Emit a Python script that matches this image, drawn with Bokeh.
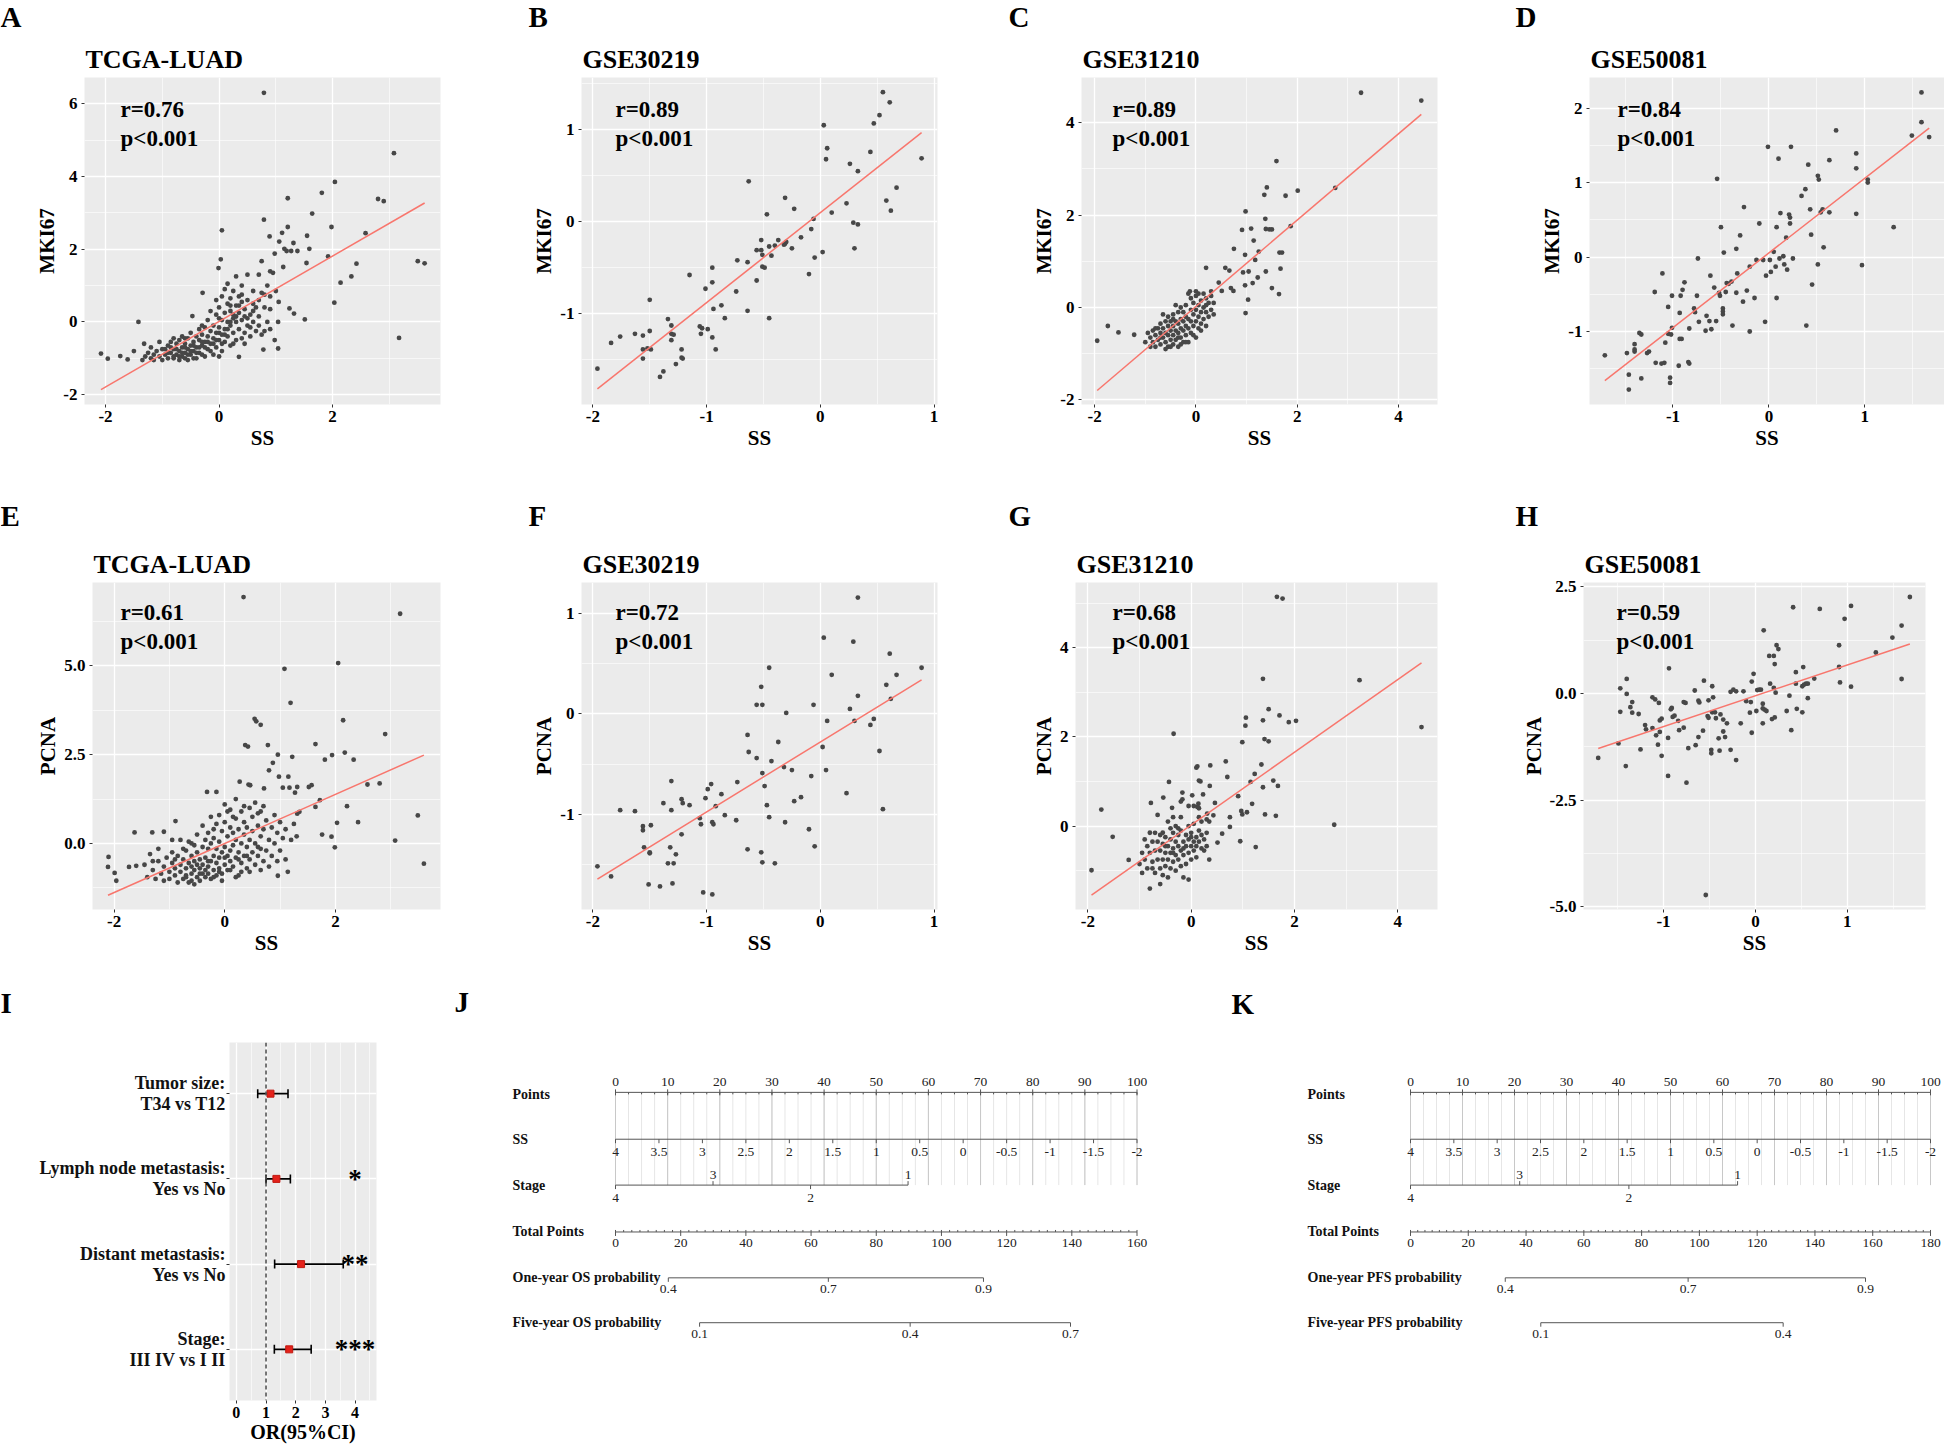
import numpy as np
from bokeh.plotting import figure
from bokeh.models import Range1d, FixedTicker, Label, Span
from bokeh.layouts import row, column
from bokeh.embed import file_html
from bokeh.resources import INLINE
from bokeh.core.properties import value

FONT = "Liberation Serif"
BG = "#EBEBEB"

# =========================== DATA ===========================
# A: TCGA-LUAD  SS vs MKI67
tcga_ss_mki67 = [
    (0.79, 6.30), (3.08, 4.64), (2.04, 3.85), (1.81, 3.55), (1.21, 3.40), (2.80, 3.38), (2.90, 3.32),
    (1.64, 2.98), (0.79, 2.81), (1.98, 2.61), (1.21, 2.61), (0.05, 2.52), (2.58, 2.44), (1.11, 2.45),
    (1.55, 2.37), (0.89, 2.35), (1.06, 2.21), (1.31, 2.17), (1.15, 2.01), (1.59, 2.01), (1.27, 1.95),
    (1.38, 1.95), (1.19, 1.95), (0.03, 1.72), (0.98, 1.88), (1.92, 1.80), (0.75, 1.67), (1.54, 1.62),
    (3.50, 1.67), (3.62, 1.61), (2.42, 1.60), (1.13, 1.51), (-0.01, 1.48), (0.90, 1.39), (2.33, 1.25),
    (2.14, 1.08), (2.03, 0.53), (3.17, -0.44), (1.51, 0.07), (1.32, 0.23), (1.24, 0.37), (1.04, 0.0),
    (0.98, -0.50), (1.04, -0.73), (0.78, -0.76), (0.35, -0.96), (-1.42, 0.0), (-2.08, -0.87),
    (-1.96, -1.01), (-1.74, -0.94), (-1.61, -1.03), (-1.50, -0.80), (-1.32, -0.60), (-0.29, 0.80),
    (-0.47, 0.16),
    (-1.35, -1.05), (-1.3, -0.95), (-1.25, -0.85), (-1.2, -1.0), (-1.15, -0.9), (-1.1, -0.8), (-1.05, -0.95),
    (-1.0, -1.05), (-1.0, -0.75), (-0.95, -0.9), (-0.9, -1.0), (-0.9, -0.65), (-0.85, -0.85), (-0.85, -0.55),
    (-0.8, -1.0), (-0.8, -0.75), (-0.75, -0.9), (-0.75, -0.6), (-0.7, -1.05), (-0.7, -0.8), (-0.7, -0.5),
    (-0.65, -0.95), (-0.65, -0.7), (-0.6, -0.85), (-0.6, -0.6), (-0.6, -1.0), (-0.55, -0.75), (-0.55, -0.45),
    (-0.5, -0.9), (-0.5, -0.65), (-0.5, -0.3), (-0.45, -0.8), (-0.45, -0.55), (-0.4, -1.0), (-0.4, -0.7),
    (-0.4, -0.4), (-0.35, -0.85), (-0.35, -0.5), (-0.35, -0.2), (-0.3, -0.65), (-0.3, -0.35), (-0.3, -0.9),
    (-0.25, -0.55), (-0.25, -0.15), (-0.2, -0.75), (-0.2, -0.4), (-0.2, 0.05), (-0.15, -0.6), (-0.15, -0.25),
    (-0.15, 0.3), (-0.1, -0.9), (-0.1, -0.45), (-0.1, -0.1), (-0.05, -0.7), (-0.05, -0.3), (-0.05, 0.2),
    (0.0, -0.5), (0.0, -0.15), (0.0, 0.4), (0.05, -0.8), (0.05, -0.35), (0.05, 0.05), (0.05, 0.7),
    (0.1, -0.55), (0.1, -0.2), (0.1, 0.25), (0.15, -0.4), (0.15, 0.0), (0.15, 0.5), (0.15, 1.05),
    (0.2, -0.65), (0.2, -0.1), (0.2, 0.3), (0.25, -0.3), (0.25, 0.1), (0.25, 0.85), (0.3, -0.5), (0.3, 0.0),
    (0.3, 0.45), (0.3, 1.25), (0.35, -0.2), (0.35, 0.25), (0.35, 0.7), (0.4, -0.45), (0.4, 0.05), (0.4, 1.0),
    (0.45, -0.3), (0.45, 0.35), (0.5, -0.1), (0.5, 0.6), (0.5, 1.3), (0.55, -0.4), (0.55, 0.2), (0.6, 0.0),
    (0.6, 0.85), (0.65, -0.25), (0.65, 0.4), (0.7, 0.15), (0.7, 1.3), (0.75, -0.35), (0.75, 0.8), (0.8, 0.4),
    (0.85, 0.0), (0.85, 1.0), (0.9, -0.2), (0.9, 0.7), (0.95, 1.35), (1.0, 0.85), (1.05, 0.55),
    (-0.45, -1.0), (-0.55, -1.05), (-0.65, -0.4), (-0.8, -0.45), (-1.05, -0.55), (-0.25, -0.95), (0.0, -0.95),
    (0.1, 0.9), (0.2, 0.65), (-0.05, 0.6), (0.4, 0.55), (0.6, 0.5), (0.25, -0.6), (0.45, -0.6), (0.55, -0.15),
    (0.7, -0.1), (0.8, -0.25),
    (-1.2, -0.7), (-1.15, -1.05), (-0.95, -0.75), (-0.9, -0.85), (-0.85, -0.7), (-0.75, -0.75), (-0.7, -0.95),
    (-0.65, -0.85), (-0.6, -0.7), (-0.55, -0.9), (-0.5, -0.8), (-0.45, -0.65), (-0.4, -0.85), (-0.35, -0.7),
    (-0.3, -0.55), (-0.25, -0.7), (-0.2, -0.55), (-0.15, -0.8), (-0.1, -0.6), (-0.05, -0.5), (0.0, -0.3),
    (0.05, -0.6), (0.1, -0.35), (0.15, -0.2), (0.2, 0.0), (0.25, 0.2), (0.3, 0.15), (0.35, 0.45), (0.45, 0.15),
    (0.5, 0.1), (0.6, 0.3), (0.7, 0.6), (0.8, 0.75), (0.9, 0.35), (-0.8, -0.95), (-0.6, -0.45), (-0.3, -0.1),
    (0.0, 0.1), (0.2, 0.45), (0.4, 0.75),
]

# B: GSE30219  SS vs MKI67
gse30219_ss_mki67 = [
    (-1.96, -1.60), (-1.84, -1.32), (-1.76, -1.25), (-1.63, -1.22), (-1.56, -1.24), (-1.56, -1.39),
    (-1.56, -1.49), (-1.52, -1.38), (-1.50, -1.19), (-1.50, -0.85), (-1.49, -1.39), (-1.41, -1.69),
    (-1.38, -1.63), (-1.34, -1.06), (-1.31, -1.13), (-1.31, -1.22), (-1.31, -1.29), (-1.29, -1.23),
    (-1.27, -1.55), (-1.22, -1.39), (-1.22, -1.48), (-1.21, -1.49), (-1.15, -0.58), (-1.06, -1.14),
    (-1.05, -1.22), (-1.04, -1.16), (-1.01, -0.73), (-0.99, -1.17), (-0.95, -0.50), (-0.95, -0.66),
    (-0.95, -1.26), (-0.94, -0.95), (-0.92, -1.39), (-0.87, -0.91), (-0.84, -1.05), (-0.74, -0.76),
    (-0.73, -0.42), (-0.64, -0.97), (-0.64, -0.44), (-0.63, 0.44), (-0.56, -0.64), (-0.56, -0.31),
    (-0.52, -0.20), (-0.52, -0.31), (-0.51, -0.36), (-0.51, -0.49), (-0.49, -0.50), (-0.47, 0.08),
    (-0.45, -0.27), (-0.45, -1.05), (-0.43, -0.37), (-0.40, -0.26), (-0.37, -0.20), (-0.32, -0.25),
    (-0.31, -0.24), (-0.31, 0.26), (-0.30, -0.22), (-0.25, -0.29), (-0.23, 0.14), (-0.17, -0.17),
    (-0.10, -0.57), (-0.08, -0.08), (-0.06, 0.03), (-0.05, -0.39), (0.02, -0.33), (0.03, 1.05),
    (0.05, 0.68), (0.06, 0.80), (0.10, 0.10), (0.23, 0.20), (0.26, 0.63), (0.29, -0.01), (0.30, -0.29),
    (0.33, -0.03), (0.33, 0.55), (0.44, 0.76), (0.47, 1.07), (0.52, 1.16), (0.55, 1.41), (0.58, 0.23),
    (0.61, 1.30), (0.62, 0.12), (0.67, 0.37), (0.89, 0.69),
]

# C: GSE31210  SS vs MKI67
gse31210_ss_mki67 = [
    (3.26, 4.65), (4.45, 4.48), (1.59, 3.17), (1.40, 2.60), (1.35, 2.44), (2.01, 2.53), (1.77, 2.42),
    (2.75, 2.59), (0.98, 2.08), (1.37, 1.92), (0.91, 1.68), (1.09, 1.71), (1.38, 1.70), (1.45, 1.69),
    (1.50, 1.69), (1.87, 1.76), (1.14, 1.45), (0.75, 1.27), (1.24, 1.21), (1.65, 1.19), (1.70, 1.19),
    (0.97, 1.14), (1.17, 1.03), (0.20, 0.86), (0.58, 0.86), (0.66, 0.80), (0.93, 0.76), (1.04, 0.78),
    (1.38, 0.78), (1.67, 0.84), (1.22, 0.65), (1.12, 0.53), (0.97, 0.48), (0.45, 0.54), (0.69, 0.42),
    (0.74, 0.36), (0.51, 0.36), (1.50, 0.42), (1.64, 0.29), (1.03, 0.17), (0.98, -0.12), (-1.95, -0.72),
    (-1.74, -0.40), (-1.53, -0.54), (-1.22, -0.59),
    (-1.0, -0.75), (-0.95, -0.55), (-0.9, -0.85), (-0.9, -0.65), (-0.85, -0.5), (-0.85, -0.75), (-0.8, -0.6),
    (-0.8, -0.85), (-0.75, -0.45), (-0.75, -0.7), (-0.7, -0.55), (-0.7, -0.8), (-0.7, -0.35), (-0.65, -0.65),
    (-0.65, -0.45), (-0.65, -0.15), (-0.6, -0.75), (-0.6, -0.55), (-0.6, -0.3), (-0.55, -0.85), (-0.55, -0.6),
    (-0.55, -0.4), (-0.55, -0.2), (-0.5, -0.7), (-0.5, -0.5), (-0.5, -0.3), (-0.45, -0.8), (-0.45, -0.6),
    (-0.45, -0.4), (-0.45, -0.15), (-0.4, -0.7), (-0.4, -0.5), (-0.4, -0.3), (-0.4, 0.05), (-0.35, -0.85),
    (-0.35, -0.55), (-0.35, -0.35), (-0.35, -0.1), (-0.3, -0.65), (-0.3, -0.45), (-0.3, -0.25), (-0.3, 0.0),
    (-0.25, -0.75), (-0.25, -0.5), (-0.25, -0.3), (-0.25, -0.1), (-0.2, -0.6), (-0.2, -0.4), (-0.2, -0.2),
    (-0.2, 0.05), (-0.15, -0.75), (-0.15, -0.45), (-0.15, -0.25), (-0.15, 0.3), (-0.1, -0.55), (-0.1, -0.3),
    (-0.1, -0.05), (-0.1, 0.2), (-0.05, -0.4), (-0.05, -0.15), (-0.05, 0.1), (0.0, -0.65), (0.0, -0.3),
    (0.0, -0.05), (0.0, 0.25), (0.05, -0.45), (0.05, -0.2), (0.05, 0.05), (0.1, -0.35), (0.1, -0.1),
    (0.1, 0.15), (0.15, -0.25), (0.15, 0.0), (0.15, 0.3), (0.2, -0.4), (0.2, -0.1), (0.2, 0.2), (0.25, -0.2),
    (0.25, 0.1), (0.3, -0.05), (0.3, 0.25), (0.35, -0.15), (0.35, 0.1), (-0.8, -0.45), (-0.6, -0.9),
    (-0.45, -0.25), (-0.35, -0.65), (-0.3, -0.8), (-0.5, -0.85), (-0.7, -0.65), (0.05, 0.3), (-0.05, -0.6),
    (0.2, 0.05), (-0.2, -0.75), (0.1, -0.5), (0.3, 0.35), (0.0, 0.35), (-0.12, 0.35),
]

# D: GSE50081  SS vs MKI67
gse50081_ss_mki67 = [
    (-1.71, -1.32), (-1.48, -1.29), (-1.46, -1.58), (-1.46, -1.78), (-1.40, -1.17), (-1.40, -1.24),
    (-1.40, -1.27), (-1.35, -1.02), (-1.33, -1.04), (-1.33, -1.63), (-1.27, -1.29), (-1.25, -1.27),
    (-1.19, -0.47), (-1.18, -1.42), (-1.11, -0.22), (-1.12, -1.43), (-1.09, -1.42), (-1.08, -1.15),
    (-1.05, -0.67), (-1.05, -1.03), (-1.03, -1.62), (-1.03, -1.69), (-1.02, -1.04), (-1.01, -0.52),
    (-1.01, -0.95), (-0.94, -1.46), (-0.93, -0.75), (-0.93, -1.10), (-0.91, -1.10), (-0.92, -0.52),
    (-0.90, -0.44), (-0.88, -0.34), (-0.84, -1.41), (-0.83, -1.43), (-0.83, -0.96), (-0.78, -0.69),
    (-0.77, -0.74), (-0.75, -0.52), (-0.74, -0.02), (-0.73, -0.87), (-0.66, -0.99), (-0.65, -0.79),
    (-0.62, -0.86), (-0.61, -0.25), (-0.60, -0.97), (-0.57, -0.41), (-0.55, -0.86), (-0.54, 1.05),
    (-0.52, -0.48), (-0.51, -0.52), (-0.50, 0.40), (-0.48, -0.69), (-0.48, -0.73), (-0.48, -0.77),
    (-0.47, 0.06), (-0.45, -0.47), (-0.44, -0.35), (-0.42, -0.36), (-0.39, -0.33), (-0.38, -0.92),
    (-0.34, 0.11), (-0.34, -0.48), (-0.33, -0.22), (-0.30, 0.29), (-0.27, -0.60), (-0.26, 0.67),
    (-0.23, -0.45), (-0.20, -1.00), (-0.20, -0.13), (-0.15, -0.55), (-0.13, -0.04), (-0.10, 0.45),
    (-0.06, -0.04), (-0.04, -0.87), (-0.03, -0.25), (-0.01, 1.48), (0.01, -0.04), (0.02, -0.20),
    (0.05, 0.07), (0.07, -0.13), (0.08, 0.40), (0.08, -0.55), (0.10, 1.32), (0.11, -0.02), (0.12, 0.59),
    (0.15, 0.01), (0.16, -0.10), (0.18, 0.26), (0.19, -0.17), (0.21, 0.57), (0.22, 0.45), (0.22, 0.53),
    (0.23, 1.48), (0.25, -0.02), (0.34, 0.82), (0.38, 0.91), (0.39, -0.92), (0.41, 1.24), (0.43, 0.64),
    (0.44, 0.30), (0.45, -0.37), (0.51, 1.09), (0.51, -0.10), (0.52, 1.04), (0.54, 0.60), (0.56, 0.64),
    (0.57, 0.13), (0.63, 1.30), (0.63, 0.60), (0.70, 1.70), (0.91, 0.58), (0.91, 1.19), (0.91, 1.39),
    (0.97, -0.11), (1.03, 1.04), (1.03, 1.00), (1.30, 0.40), (1.49, 1.63), (1.59, 2.21), (1.59, 1.81),
    (1.67, 1.61),
]

# E: TCGA-LUAD  SS vs PCNA
tcga_ss_pcna = [
    (0.34, 6.94), (3.17, 6.47), (2.05, 5.08), (1.08, 4.92), (1.19, 3.96), (0.54, 3.51), (0.57, 3.44),
    (0.65, 3.34), (2.14, 3.47), (2.90, 3.08), (0.37, 2.77), (0.42, 2.73), (0.78, 2.77), (1.64, 2.80),
    (0.96, 2.50), (1.22, 2.44), (1.94, 2.49), (1.81, 2.36), (2.17, 2.56), (2.33, 2.36), (0.87, 2.27),
    (0.80, 2.06), (0.98, 1.88), (1.15, 1.88), (0.27, 1.74), (0.43, 1.66), (0.46, 1.64), (1.05, 1.57),
    (1.17, 1.57), (1.31, 1.59), (1.52, 1.59), (1.57, 1.64), (2.58, 1.66), (2.80, 1.69), (1.27, 1.43),
    (0.71, 1.55), (-0.15, 1.45), (1.64, 1.03), (1.72, 1.22), (2.21, 1.05), (1.31, 0.84), (1.35, 0.89),
    (2.41, 0.60), (2.03, 0.58), (3.49, 0.79), (1.76, 0.25), (1.93, 0.19), (3.08, 0.08), (1.99, -0.11),
    (3.60, -0.57), (1.14, -0.80), (0.96, -0.91), (-2.10, -0.38), (-2.11, -0.66), (-1.99, -0.83),
    (-1.96, -1.05), (-1.63, 0.31), (-1.73, -0.66), (-1.60, -0.63), (-1.31, 0.31), (-1.10, 0.33),
    (-0.89, 0.63), (-0.32, 1.45),
    (-1.45, -0.6), (-1.4, -0.95), (-1.35, -0.3), (-1.3, -0.75), (-1.25, -1.0), (-1.2, -0.5), (-1.15, -0.85),
    (-1.1, -0.65), (-1.1, -1.05), (-1.05, -0.4), (-1.0, -0.8), (-1.0, -1.0), (-0.95, -0.55), (-0.95, 0.1),
    (-0.9, -0.9), (-0.9, -0.7), (-0.85, -1.1), (-0.85, -0.35), (-0.8, -0.8), (-0.8, -0.6), (-0.8, 0.1),
    (-0.75, -1.0), (-0.75, -0.45), (-0.7, -0.9), (-0.7, -0.7), (-0.7, -0.2), (-0.65, -1.1), (-0.65, -0.55),
    (-0.65, 0.05), (-0.6, -0.85), (-0.6, -0.65), (-0.6, -0.35), (-0.55, -1.15), (-0.55, -0.75), (-0.55, -0.5),
    (-0.5, -0.95), (-0.5, -0.6), (-0.5, -0.25), (-0.5, 0.25), (-0.45, -1.05), (-0.45, -0.7), (-0.45, -0.45),
    (-0.4, -0.85), (-0.4, -0.6), (-0.4, -0.1), (-0.4, 0.5), (-0.35, -0.95), (-0.35, -0.75), (-0.35, -0.4),
    (-0.3, -0.65), (-0.3, -0.85), (-0.3, -0.15), (-0.3, 0.3), (-0.25, -0.5), (-0.25, -1.0), (-0.25, 0.0),
    (-0.25, 0.75), (-0.2, -0.75), (-0.2, -0.35), (-0.2, 0.15), (-0.15, -0.9), (-0.15, -0.55), (-0.15, -0.15),
    (-0.15, 0.55), (-0.1, -0.7), (-0.1, -0.4), (-0.1, 0.05), (-0.1, 0.8), (-0.05, -0.85), (-0.05, -0.25),
    (-0.05, 0.35), (0.0, -0.6), (0.0, -0.1), (0.0, 0.6), (0.0, 1.1), (0.05, -0.75), (0.05, -0.35), (0.05, 0.2),
    (0.1, -0.5), (0.1, -0.2), (0.1, 0.45), (0.1, 0.95), (0.15, -0.65), (0.15, -0.05), (0.15, 0.3), (0.2, -0.4),
    (0.2, 0.1), (0.2, 0.7), (0.2, 1.25), (0.25, -0.9), (0.25, -0.25), (0.25, 0.4), (0.3, -0.55), (0.3, 0.0),
    (0.3, 0.9), (0.35, -0.35), (0.35, 0.25), (0.35, 0.6), (0.4, -0.7), (0.4, -0.1), (0.4, 0.45), (0.45, -0.45),
    (0.45, 0.1), (0.45, 1.0), (0.5, -0.25), (0.5, 0.35), (0.5, 0.75), (0.55, -0.6), (0.55, 0.0), (0.55, 1.15),
    (0.6, -0.35), (0.6, 0.5), (0.65, -0.15), (0.65, 0.2), (0.65, 0.9), (0.7, -0.5), (0.7, 0.4), (0.75, -0.2),
    (0.75, 0.65), (0.8, 0.1), (0.8, -0.65), (0.85, 0.45), (0.85, -0.35), (0.9, 0.0), (0.9, 0.8), (0.95, -0.5),
    (0.95, 0.3), (1.0, -0.2), (1.0, 0.6), (1.05, 0.15), (1.1, -0.45), (1.1, 0.4), (1.2, 0.1), (1.25, 0.55),
    (1.3, 0.2), (-0.55, -0.05), (-0.75, -0.15), (-1.2, -0.15), (0.15, 0.75), (0.6, 0.85), (0.35, 1.05),
    (-0.35, 0.1), (0.05, 0.9), (0.3, -0.8), (-0.05, -1.05), (0.2, -0.95), (0.45, -0.8), (0.65, -0.75),
    (0.7, 1.05), (-0.9, -0.45), (-0.7, -0.95), (-0.6, -1.05), (-0.45, -0.85), (-0.3, -0.5), (-0.2, -0.95),
    (-0.1, -0.8), (0.0, -0.4), (0.1, -0.75), (0.25, -0.45), (0.4, -0.35), (0.6, -0.1), (-1.3, -0.5),
    (-0.95, -0.25), (-0.6, 0.0), (-0.2, 0.4),
]

# F: GSE30219  SS vs PCNA
gse30219_ss_pcna = [
    (-1.96, -1.52), (-1.84, -1.62), (-1.76, -0.96), (-1.63, -0.97), (-1.56, -1.12), (-1.56, -1.16),
    (-1.55, -1.33), (-1.51, -1.70), (-1.50, -1.38), (-1.50, -1.39), (-1.49, -1.11), (-1.41, -1.72),
    (-1.38, -0.89), (-1.34, -1.49), (-1.32, -1.33), (-1.31, -0.67), (-1.31, -0.96), (-1.30, -1.69),
    (-1.29, -1.49), (-1.27, -1.40), (-1.22, -1.20), (-1.22, -0.85), (-1.21, -0.89), (-1.15, -0.91),
    (-1.06, -1.04), (-1.05, -1.10), (-1.03, -1.78), (-1.01, -0.84), (-0.99, -0.75), (-0.96, -0.70),
    (-0.95, -1.08), (-0.94, -1.10), (-0.95, -1.80), (-0.92, -0.92), (-0.87, -0.80), (-0.84, -1.01),
    (-0.74, -1.06), (-0.73, -0.68), (-0.64, -0.21), (-0.63, -0.38), (-0.64, -1.35), (-0.56, 0.09),
    (-0.56, -0.44), (-0.52, 0.27), (-0.51, 0.09), (-0.51, -0.59), (-0.52, -1.38), (-0.51, -1.48),
    (-0.49, -0.72), (-0.47, -0.91), (-0.45, 0.46), (-0.45, -1.03), (-0.43, -0.47), (-0.40, -1.49),
    (-0.37, -0.28), (-0.32, -0.53), (-0.31, -1.08), (-0.30, 0.01), (-0.25, -0.56), (-0.23, -0.87),
    (-0.17, -0.83), (-0.10, -1.15), (-0.08, -0.62), (-0.06, 0.09), (-0.05, -1.32), (0.02, -0.33),
    (0.03, 0.76), (0.05, -0.56), (0.06, -0.07), (0.10, 0.39), (0.23, -0.79), (0.26, 0.05), (0.29, 0.72),
    (0.30, -0.07), (0.33, 0.18), (0.33, 1.16), (0.44, -0.11), (0.47, -0.05), (0.52, -0.37), (0.55, -0.95),
    (0.58, 0.29), (0.61, 0.60), (0.62, 0.15), (0.67, 0.39), (0.89, 0.46),
]

# G: GSE31210  SS vs PCNA
gse31210_ss_pcna = [
    (1.66, 5.14), (1.77, 5.10), (1.39, 3.30), (3.26, 3.27), (1.50, 2.62), (1.71, 2.48), (1.06, 2.43),
    (1.39, 2.37), (1.89, 2.33), (2.03, 2.36), (1.05, 2.25), (4.46, 2.22), (-0.34, 2.07), (1.42, 1.95),
    (1.50, 1.90), (0.99, 1.88), (0.67, 1.45), (0.37, 1.36), (0.12, 1.34), (0.10, 1.31), (1.36, 1.38),
    (1.23, 1.17), (0.70, 1.10), (1.59, 1.02), (1.15, 0.99), (0.15, 1.02), (0.18, 1.00), (-0.43, 0.99),
    (1.39, 0.87), (1.68, 0.90), (0.36, 0.90), (0.91, 0.67), (-0.17, 0.75), (-0.17, 0.60), (0.02, 0.69),
    (0.23, 0.71), (-0.54, 0.64), (-0.78, 0.52), (0.46, 0.52), (1.18, 0.50), (0.14, 0.50), (0.12, 0.43),
    (-0.37, 0.41), (0.97, 0.34), (1.08, 0.31), (0.99, 0.26), (1.43, 0.26), (1.64, 0.23), (0.31, 0.28),
    (0.43, 0.24), (0.75, 0.20), (2.77, 0.03), (0.75, -0.02), (0.60, -0.17), (0.95, -0.34), (0.51, -0.37),
    (1.25, -0.47), (-1.74, 0.37), (-1.52, -0.24), (-1.21, -0.76), (-1.93, -0.99),
    (-1.0, -0.85), (-0.95, -0.6), (-0.95, -1.05), (-0.9, -0.75), (-0.85, -0.45), (-0.85, -0.95), (-0.8, -0.6),
    (-0.8, -0.15), (-0.8, -1.4), (-0.75, -0.8), (-0.75, -0.35), (-0.7, -1.05), (-0.7, -0.55), (-0.7, -0.15),
    (-0.65, -0.75), (-0.65, -0.35), (-0.65, 0.25), (-0.6, -0.95), (-0.6, -0.55), (-0.6, -0.2), (-0.6, -1.3),
    (-0.55, -0.75), (-0.55, -0.4), (-0.55, -1.1), (-0.5, -0.6), (-0.5, -0.25), (-0.5, -0.9), (-0.45, -0.45),
    (-0.45, -0.75), (-0.45, 0.1), (-0.45, -1.15), (-0.4, -0.6), (-0.4, -0.3), (-0.4, -0.95), (-0.35, -0.5),
    (-0.35, -0.15), (-0.35, -0.8), (-0.35, 0.2), (-0.3, -0.65), (-0.3, -0.35), (-0.3, -1.0), (-0.3, 0.0),
    (-0.25, -0.45), (-0.25, -0.75), (-0.25, -0.2), (-0.2, -0.55), (-0.2, -0.9), (-0.2, -0.1), (-0.2, 0.2),
    (-0.15, -0.35), (-0.15, -0.65), (-0.15, -1.15), (-0.1, -0.45), (-0.1, -0.2), (-0.1, -0.85), (-0.05, -0.3),
    (-0.05, -0.6), (-0.05, 0.0), (-0.05, -1.2), (0.0, -0.45), (0.0, -0.15), (0.0, -0.75), (0.05, -0.35),
    (0.05, -0.55), (0.05, 0.05), (0.1, -0.25), (0.1, -0.45), (0.1, -0.7), (0.15, -0.35), (0.15, -0.1),
    (0.15, 0.2), (0.2, -0.5), (0.2, -0.2), (0.2, 0.1), (0.25, -0.3), (0.25, -0.55), (0.3, -0.15), (0.3, -0.45),
    (0.35, -0.75), (0.35, 0.1), (0.15, 0.4), (-0.05, 0.45), (0.05, 0.45), (-0.2, 0.55), (0.3, 0.15),
    (-0.55, -0.15), (-0.9, -0.3), (-0.75, -0.95), (-0.5, -0.45), (-0.35, -0.6), (-0.15, -0.5), (0.0, -0.25),
    (-0.4, -0.05), (-0.25, -0.05),
]

# H: GSE50081  SS vs PCNA
gse50081_ss_pcna = [
    (-1.71, -1.51), (-1.49, -1.17), (-1.47, 0.12), (-1.47, -0.43), (-1.41, -1.70), (-1.40, 0.34),
    (-1.40, -0.01), (-1.36, -0.32), (-1.34, -0.20), (-1.34, -0.45), (-1.27, -0.48), (-1.25, -1.31),
    (-1.20, -0.74), (-1.19, -0.84), (-1.12, -0.81), (-1.12, -0.09), (-1.09, -0.14), (-1.08, -0.98),
    (-1.06, -1.20), (-1.05, -0.22), (-1.04, -0.63), (-1.02, -0.59), (-1.02, -1.46), (-1.04, -0.90),
    (-0.94, 0.59), (-0.95, -1.04), (-0.95, -1.93), (-0.92, -0.37), (-0.91, -0.34), (-0.90, -0.55),
    (-0.88, -0.52), (-0.84, -0.64), (-0.83, -0.86), (-0.78, -0.20), (-0.78, -0.80), (-0.76, -0.22),
    (-0.75, -2.09), (-0.73, -1.28), (-0.66, 0.07), (-0.65, -1.21), (-0.62, -1.02), (-0.62, -0.17),
    (-0.61, -0.21), (-0.57, -0.87), (-0.56, 0.30), (-0.54, -4.72), (-0.52, -0.53), (-0.51, -0.16),
    (-0.51, -0.57), (-0.48, -1.32), (-0.48, -1.40), (-0.47, 0.17), (-0.46, -0.09), (-0.47, -0.44),
    (-0.44, -0.44), (-0.43, -0.58), (-0.40, -1.05), (-0.39, -1.34), (-0.38, -0.49), (-0.35, -0.61),
    (-0.35, -0.89), (-0.33, -1.02), (-0.31, -0.70), (-0.27, 0.04), (-0.27, -1.32), (-0.24, 0.09),
    (-0.21, 0.05), (-0.21, -1.56), (-0.16, -0.70), (-0.13, 0.05), (-0.10, -0.18), (-0.06, -0.45),
    (-0.05, -0.20), (-0.04, -0.92), (-0.04, 0.28), (-0.02, 0.46), (0.01, -0.41), (0.02, 0.08), (0.04, 0.09),
    (0.06, 0.09), (0.08, -0.24), (0.08, -0.70), (0.09, 1.48), (0.08, -0.35), (0.10, -0.38), (0.12, -0.41),
    (0.15, 0.88), (0.16, 0.23), (0.18, -0.60), (0.20, 0.13), (0.20, 0.88), (0.21, -0.56), (0.21, 0.69),
    (0.22, 0.02), (0.23, 1.13), (0.25, 1.04), (0.34, -0.41), (0.37, -0.05), (0.39, -0.86), (0.41, 2.02),
    (0.44, 0.50), (0.44, 0.23), (0.45, -0.36), (0.51, -0.44), (0.51, 0.17), (0.52, 0.62), (0.53, 0.21),
    (0.55, 0.23), (0.57, 0.23), (0.57, -0.11), (0.64, 0.35), (0.70, 1.98), (0.91, 0.62), (0.91, 1.13),
    (0.92, 0.26), (0.97, 1.75), (1.04, 2.05), (1.04, 0.16), (1.31, 0.96), (1.49, 1.31), (1.59, 1.59),
    (1.59, 0.34), (1.68, 2.26),
]

# linear fits: (slope, intercept)
fit_tcga_mki67 = (0.90, 0.012)
fit_gse30219_mki67 = (0.979, 0.099)
fit_gse31210_mki67 = (0.934, 0.024)
fit_gse50081_mki67 = (1.003, 0.055)
fit_tcga_pcna = (0.691, 0.0)
fit_gse30219_pcna = (0.697, -0.28)
fit_gse31210_pcna = (0.815, 0.025)
fit_gse50081_pcna = (0.723, -0.054)

r_values = ["r=0.76", "r=0.89", "r=0.89", "r=0.84", "r=0.61", "r=0.72", "r=0.68", "r=0.59"]
p_text = "p<0.001"
panel_letters = ["A", "B", "C", "D", "E", "F", "G", "H", "I", "J", "K"]

# I: forest plot
forest_names = ["Tumor size:\nT34 vs T12", "Lymph node metastasis:\nYes vs No",
                "Distant metastasis:\nYes vs No", "Stage:\nIII IV vs I II"]
forest_or = [1.15, 1.35, 2.18, 1.78]
forest_lo = [0.72, 1.00, 1.29, 1.28]
forest_hi = [1.74, 1.82, 3.60, 2.52]
forest_stars = ["", "*", "**", "***"]
forest_star_x = 4.0

# J/K: nomograms
nomo_ss_ticks = [4, 3.5, 3, 2.5, 2, 1.5, 1, 0.5, 0, -0.5, -1, -1.5, -2]
nomo_ss_labels = ["4", "3.5", "3", "2.5", "2", "1.5", "1", "0.5", "0", "-0.5", "-1", "-1.5", "-2"]
nomo_stage_levels = ["4", "3", "2", "1"]
os_stage_points = [0, 18.7, 37.4, 56.1]
pfs_stage_points = [0, 21.0, 42.0, 62.9]
os_total_max = 160
pfs_total_max = 180
os_1y_prob = ["0.4", "0.7", "0.9"]
os_1y_total = [16.2, 65.3, 112.9]
os_5y_prob = ["0.1", "0.4", "0.7"]
os_5y_total = [25.8, 90.4, 139.6]
pfs_1y_prob = ["0.4", "0.7", "0.9"]
pfs_1y_total = [32.8, 96.1, 157.5]
pfs_5y_prob = ["0.1", "0.4"]
pfs_5y_total = [45.1, 129.0]

# =========================== LAYOUT ===========================
PAGE_L, PAGE_R = 0, 1944
BASE_FIX_BIG = 10    # raise applied to alphabetic-baseline texts (30px)
BASE_FIX_MID = 8     # (23px)
# letter strips: (top, bottom) in page pixels, letters (x, baseline)
strips = [
    ((0, 34), [(0, 26), (528, 26), (1008, 26), (1515, 26)]),
    ((490, 532), [(0, 525), (528, 525), (1008, 525), (1515, 525)]),
    ((980, 1022), [(0, 1012), (454, 1011), (1231, 1013)]),
]
# (fig_left, fig_top, fig_w, fig_h, frame_left, frame_top, frame_w, frame_h, stat_dx)
boxes = [
    (0, 34, 480, 456, 84, 77, 356, 327, 36),
    (480, 34, 500, 456, 581, 77, 356, 327, 34),
    (980, 34, 490, 456, 1081, 77, 356, 327, 31),
    (1470, 34, 474, 456, 1589, 77, 355, 327, 28),
    (0, 532, 480, 448, 92, 582, 348, 327, 28),
    (480, 532, 500, 448, 581, 582, 356, 327, 34),
    (980, 532, 490, 448, 1075, 582, 362, 327, 37),
    (1470, 532, 474, 448, 1583, 582, 342, 327, 33),
]

specs = [
    dict(title="TCGA-LUAD", ylab="MKI67", pts=tcga_ss_mki67, fit=fit_tcga_mki67,
         xr=(-2.37, 3.90), yr=(-2.27, 6.72), xt=[-2, 0, 2], xtl=["-2", "0", "2"], xm=[-3, -1, 1, 3],
         yt=[-2, 0, 2, 4, 6], ytl=["-2", "0", "2", "4", "6"], ym=[-1, 1, 3, 5]),
    dict(title="GSE30219", ylab="MKI67", pts=gse30219_ss_mki67, fit=fit_gse30219_mki67,
         xr=(-2.10, 1.03), yr=(-1.99, 1.57), xt=[-2, -1, 0, 1], xtl=["-2", "-1", "0", "1"], xm=[-1.5, -0.5, 0.5],
         yt=[-1, 0, 1], ytl=["-1", "0", "1"], ym=[-1.5, -0.5, 0.5, 1.5]),
    dict(title="GSE31210", ylab="MKI67", pts=gse31210_ss_mki67, fit=fit_gse31210_mki67,
         xr=(-2.26, 4.77), yr=(-2.10, 4.98), xt=[-2, 0, 2, 4], xtl=["-2", "0", "2", "4"], xm=[-1, 1, 3],
         yt=[-2, 0, 2, 4], ytl=["-2", "0", "2", "4"], ym=[-1, 1, 3]),
    dict(title="GSE50081", ylab="MKI67", pts=gse50081_ss_mki67, fit=fit_gse50081_mki67,
         xr=(-1.87, 1.83), yr=(-1.98, 2.41), xt=[-1, 0, 1], xtl=["-1", "0", "1"], xm=[-1.5, -0.5, 0.5, 1.5],
         yt=[-1, 0, 1, 2], ytl=["-1", "0", "1", "2"], ym=[-1.5, -0.5, 0.5, 1.5]),
    dict(title="TCGA-LUAD", ylab="PCNA", pts=tcga_ss_pcna, fit=fit_tcga_pcna,
         xr=(-2.39, 3.90), yr=(-1.86, 7.35), xt=[-2, 0, 2], xtl=["-2", "0", "2"], xm=[-3, -1, 1, 3],
         yt=[0, 2.5, 5], ytl=["0.0", "2.5", "5.0"], ym=[-1.25, 1.25, 3.75, 6.25]),
    dict(title="GSE30219", ylab="PCNA", pts=gse30219_ss_pcna, fit=fit_gse30219_pcna,
         xr=(-2.10, 1.03), yr=(-1.95, 1.31), xt=[-2, -1, 0, 1], xtl=["-2", "-1", "0", "1"], xm=[-1.5, -0.5, 0.5],
         yt=[-1, 0, 1], ytl=["-1", "0", "1"], ym=[-1.5, -0.5, 0.5]),
    dict(title="GSE31210", ylab="PCNA", pts=gse31210_ss_pcna, fit=fit_gse31210_pcna,
         xr=(-2.24, 4.77), yr=(-1.87, 5.46), xt=[-2, 0, 2, 4], xtl=["-2", "0", "2", "4"], xm=[-1, 1, 3],
         yt=[0, 2, 4], ytl=["0", "2", "4"], ym=[-1, 1, 3, 5]),
    dict(title="GSE50081", ylab="PCNA", pts=gse50081_ss_pcna, fit=fit_gse50081_pcna,
         xr=(-1.87, 1.85), yr=(-5.06, 2.60), xt=[-1, 0, 1], xtl=["-1", "0", "1"], xm=[-1.5, -0.5, 0.5, 1.5],
         yt=[-5, -2.5, 0, 2.5], ytl=["-5.0", "-2.5", "0.0", "2.5"], ym=[-3.75, -1.25, 1.25]),
]


def bare_figure(width, height, x_range, y_range, bt=0, bb=0):
    p = figure(width=width, height=height, x_range=x_range, y_range=y_range, title=None,
               x_axis_type=None, y_axis_type=None, output_backend="svg", toolbar_location=None,
               min_border_left=0, min_border_right=0, min_border_top=bt, min_border_bottom=bb)
    p.outline_line_color = None
    p.background_fill_color = "white"
    p.border_fill_color = "white"
    return p


def letter_strip(top_bottom, pos, letters):
    top, bottom = top_bottom
    p = bare_figure(PAGE_R - PAGE_L, bottom - top, Range1d(PAGE_L, PAGE_R), Range1d(bottom, top))
    p.text([a for a, b in pos], [b - BASE_FIX_BIG for a, b in pos], letters, text_font=value(FONT),
           text_font_size="29px", text_font_style="bold", text_align="left", text_baseline="alphabetic",
           text_color="black")
    return p


def style_axes(p, tick_size="17px", lab_size="21px"):
    for ax in (p.xaxis[0], p.yaxis[0]):
        ax.axis_line_color = None
        ax.major_tick_line_color = "#333333"
        ax.major_tick_in = 0
        ax.major_tick_out = 3
        ax.minor_tick_line_color = None
        ax.major_label_text_font = FONT
        ax.major_label_text_font_size = tick_size
        ax.major_label_text_font_style = "bold"
        ax.major_label_text_color = "black"
        ax.axis_label_text_font = FONT
        ax.axis_label_text_font_size = lab_size
        ax.axis_label_text_font_style = "bold"
        ax.axis_label_text_color = "black"
        ax.axis_label_standoff = 1
        ax.major_label_standoff = 3


def scatter_fig(spec, box, stat_r, row_idx):
    fl, ftp, fw, fh, xl, yt, w, h, sdx = box
    p = figure(width=fw, height=fh, x_range=Range1d(*spec["xr"]), y_range=Range1d(*spec["yr"]),
               title=spec["title"], output_backend="svg", toolbar_location=None,
               min_border_left=xl - fl, min_border_right=fw - (xl - fl) - w,
               min_border_top=yt - ftp, min_border_bottom=fh - (yt - ftp) - h)
    p.title.align = "left"
    p.title.offset = 1
    p.title.text_font = FONT
    p.title.text_font_size = "26px"
    p.title.text_font_style = "bold"
    p.title.text_color = "black"
    p.title.standoff = 8
    p.background_fill_color = BG
    p.border_fill_color = "white"
    p.outline_line_color = None
    xt = FixedTicker(ticks=spec["xt"], minor_ticks=spec["xm"])
    ytk = FixedTicker(ticks=spec["yt"], minor_ticks=spec["ym"])
    p.xaxis.ticker = xt
    p.yaxis.ticker = ytk
    p.xgrid.ticker = xt
    p.ygrid.ticker = ytk
    p.xaxis.major_label_overrides = {t: s for t, s in zip(spec["xt"], spec["xtl"])}
    p.yaxis.major_label_overrides = {t: s for t, s in zip(spec["yt"], spec["ytl"])}
    for g in (p.xgrid[0], p.ygrid[0]):
        g.grid_line_color = "white"
        g.grid_line_width = 1.3
        g.minor_grid_line_color = "white"
        g.minor_grid_line_width = 0.6
    p.xaxis.axis_label = "SS"
    p.yaxis.axis_label = spec["ylab"]
    style_axes(p)
    p.xaxis.major_label_standoff = 2
    xs = [a for a, b in spec["pts"]]
    ys = [b for a, b in spec["pts"]]
    p.scatter(xs, ys, size=4.8, fill_color="#474747", line_color=None)
    s, c = spec["fit"]
    x0, x1 = min(xs), max(xs)
    p.line([x0, x1], [s * x0 + c, s * x1 + c], line_color="#F8766D", line_width=1.5)
    rdy = (40 if row_idx == 0 else 38) - BASE_FIX_MID
    for txt_, dy in ((stat_r, rdy), (p_text, rdy + 28.5)):
        p.add_layout(Label(x=sdx, y=h - dy, x_units="screen", y_units="screen", text=txt_,
                           text_font=FONT, text_font_size="23px", text_font_style="bold",
                           text_align="left", text_baseline="alphabetic", text_color="black"))
    return p


scatter_figs = [scatter_fig(s, b, r, i // 4) for i, (s, b, r) in enumerate(zip(specs, boxes, r_values))]

# ---------------- bottom row geometry (frames of I, J, K are aligned by the row)
ROW3_TOP, ROW3_H = 1022, 423
ROW3_BT, ROW3_BB = 20, 44

# ---------------- forest plot (I)
I_left, I_w = 0, 440
I_frame_left, I_frame_w = 229, 147
pI = figure(width=I_w, height=ROW3_H, x_range=Range1d(-0.23, 4.72), y_range=Range1d(0.4, 4.6), title=None,
            output_backend="svg", toolbar_location=None,
            min_border_left=I_frame_left - I_left, min_border_right=I_w - (I_frame_left - I_left) - I_frame_w,
            min_border_top=ROW3_BT, min_border_bottom=ROW3_BB)
pI.background_fill_color = BG
pI.border_fill_color = "white"
pI.outline_line_color = None
n = len(forest_or)
cat_y = [n - i for i in range(n)]
ixt = FixedTicker(ticks=[0, 1, 2, 3, 4], minor_ticks=[0.5, 1.5, 2.5, 3.5, 4.5])
iyt = FixedTicker(ticks=cat_y, minor_ticks=[])
pI.xaxis.ticker = ixt
pI.xgrid.ticker = ixt
pI.yaxis.ticker = iyt
pI.ygrid.ticker = iyt
for g in (pI.xgrid[0], pI.ygrid[0]):
    g.grid_line_color = "white"
    g.grid_line_width = 1.3
    g.minor_grid_line_color = "white"
    g.minor_grid_line_width = 0.6
pI.xaxis.axis_label = "OR(95%CI)"
style_axes(pI, tick_size="16px", lab_size="20px")
pI.yaxis.major_label_overrides = {y: s for y, s in zip(cat_y, forest_names)}
pI.yaxis.major_label_text_font_size = "18px"
pI.yaxis.major_label_text_color = "#111111"
pI.yaxis.major_label_text_line_height = 1.05
pI.yaxis.major_label_standoff = 1
pI.xaxis.major_label_standoff = 2
pI.xaxis.axis_label_standoff = 0
pI.add_layout(Span(location=1, dimension="height", line_color="#555555", line_dash="4 3", line_width=1.6))
pI.segment(forest_lo, cat_y, forest_hi, cat_y, line_color="black", line_width=1.6)
pI.scatter(forest_lo + forest_hi, cat_y + cat_y, marker="dash", angle=np.pi / 2, size=9,
           line_color="black", line_width=1.6)
pI.scatter(forest_or, cat_y, marker="square", size=7, fill_color="#E3221B", line_color="#C0180F")
pI.text([forest_star_x] * n, cat_y, forest_stars, text_font=value(FONT), text_font_size="27px",
        text_font_style="bold", text_align="center", text_baseline="middle", text_color="black")

# ---------------- nomograms (J, K)
NOMO_ROWS = (1092, 1139, 1185, 1232, 1278, 1323)


def nomogram(box, stage_pts, total_max, one_lab, one_tp, five_lab, five_tp, outcome):
    fl, fw, p0, p100, lab_x = box
    ppp = (p100 - p0) / 100.0
    p = bare_figure(fw, ROW3_H, Range1d((fl - p0) / ppp, (fl + fw - p0) / ppp),
                    Range1d(ROW3_TOP + ROW3_H - ROW3_BB, ROW3_TOP + ROW3_BT), bt=ROW3_BT, bb=ROW3_BB)
    yP, yS, yG, yT, y1, y5 = NOMO_ROWS
    axc = "#555555"
    txt = dict(text_font=value(FONT), text_font_size="13.5px", text_align="center",
               text_baseline="middle", text_color="#222222")
    minor = [i * 2.5 for i in range(41)]
    major = [i * 10 for i in range(11)]
    p.segment(minor, [yP] * len(minor), minor, [yG] * len(minor), line_color="#E6E6E6", line_width=1)
    p.segment(major, [yP] * len(major), major, [yG] * len(major), line_color="#C8C8C8", line_width=1)
    # Points
    p.segment([0], [yP], [100], [yP], line_color=axc, line_width=1)
    p.segment(minor, [yP] * len(minor), minor, [yP + 2] * len(minor), line_color=axc, line_width=1)
    p.segment(major, [yP - 3] * len(major), major, [yP + 3] * len(major), line_color=axc, line_width=1)
    p.text(major, [yP - 10.5] * len(major), [str(v) for v in major], **txt)
    # SS
    hi, lo = max(nomo_ss_ticks), min(nomo_ss_ticks)
    ssx = [(hi - v) / (hi - lo) * 100 for v in nomo_ss_ticks]
    p.segment([0], [yS], [100], [yS], line_color=axc, line_width=1)
    p.segment(ssx, [yS] * len(ssx), ssx, [yS + 4] * len(ssx), line_color=axc, line_width=1)
    p.text(ssx, [yS + 13] * len(ssx), nomo_ss_labels, **txt)
    # Stage
    p.segment([0], [yG], [max(stage_pts)], [yG], line_color=axc, line_width=1)
    dirs = [1 if i % 2 == 0 else -1 for i in range(len(stage_pts))]
    p.segment(stage_pts, [yG] * len(stage_pts), stage_pts, [yG + 4 * d for d in dirs], line_color=axc, line_width=1)
    p.text(stage_pts, [yG + 13 if d > 0 else yG - 10 for d in dirs], nomo_stage_levels, **txt)
    # Total points
    tmaj = list(range(0, total_max + 1, 20))
    tmin = [i * 2.5 for i in range(int(total_max / 2.5) + 1)]
    tx = [t * 100.0 / total_max for t in tmaj]
    tmx = [t * 100.0 / total_max for t in tmin]
    p.segment([0], [yT], [100], [yT], line_color=axc, line_width=1)
    p.segment(tmx, [yT] * len(tmx), tmx, [yT - 2] * len(tmx), line_color=axc, line_width=1)
    p.segment(tx, [yT] * len(tx), tx, [yT + 4] * len(tx), line_color=axc, line_width=1)
    p.text(tx, [yT + 11.5] * len(tx), [str(t) for t in tmaj], **txt)
    # probabilities
    for yy, labs, tps in ((y1, one_lab, one_tp), (y5, five_lab, five_tp)):
        xx = [t * 100.0 / total_max for t in tps]
        p.segment([min(xx)], [yy], [max(xx)], [yy], line_color=axc, line_width=1)
        p.segment(xx, [yy] * len(xx), xx, [yy + 4] * len(xx), line_color=axc, line_width=1)
        p.text(xx, [yy + 11.5] * len(xx), labs, **txt)
    names = ["Points", "SS", "Stage", "Total Points",
             "One-year %s probability" % outcome, "Five-year %s probability" % outcome]
    lx = (lab_x - p0) / ppp
    p.text([lx] * 6, [yP + 2, yS, yG, yT, y1, y5], names, text_font=value(FONT), text_font_size="14px",
           text_font_style="bold", text_align="left", text_baseline="middle", text_color="#111111")
    return p


pJ = nomogram((440, 800, 615, 1136.5, 512), os_stage_points, os_total_max,
              os_1y_prob, os_1y_total, os_5y_prob, os_5y_total, "OS")
pK = nomogram((1240, 704, 1410, 1930, 1307), pfs_stage_points, pfs_total_max,
              pfs_1y_prob, pfs_1y_total, pfs_5y_prob, pfs_5y_total, "PFS")

s1 = letter_strip(strips[0][0], strips[0][1], panel_letters[0:4])
s2 = letter_strip(strips[1][0], strips[1][1], panel_letters[4:8])
s3 = letter_strip(strips[2][0], strips[2][1], panel_letters[8:11])

layout = column(s1, row(*scatter_figs[:4]), s2, row(*scatter_figs[4:]), s3, row(pI, pJ, pK))
open("out.html", "w").write(file_html(layout, INLINE))
